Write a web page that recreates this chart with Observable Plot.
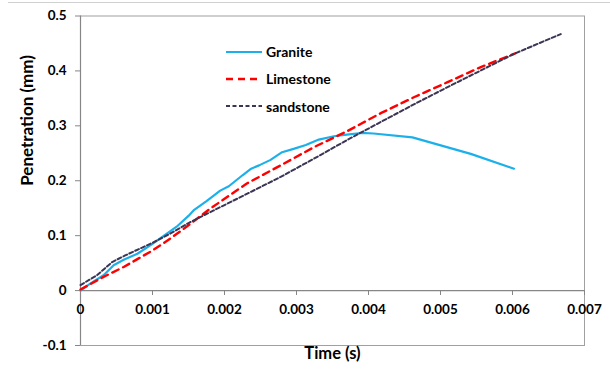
<!DOCTYPE html>
<html>
<head>
<meta charset="utf-8">
<script src="https://cdn.jsdelivr.net/npm/d3@7"></script>
<script src="https://cdn.jsdelivr.net/npm/@observablehq/plot@0.6"></script>
<style>
  html, body { margin: 0; padding: 0; background: #fff; }
  #wrap { position: relative; width: 610px; height: 372px; font-family: Lato, "Open Sans", sans-serif; }
  #topline { position: absolute; left: 8px; right: 0; top: 2px; height: 0; border-top: 1px solid #d0d0d0; }
  #legend { position: absolute; left: 226px; top: 38px; font-weight: bold; font-size: 14px; color: #000; }
  #legend .row { display: flex; align-items: center; height: 27.3px; }
  #legend svg { margin-right: 4px; }
</style>
</head>
<body>
<div id="wrap"><div id="topline"></div><div id="chart"></div><div id="legend"></div></div>
<script>
// ---- data (time in s, penetration in mm) ----
const seriesNames = ["Granite", "Limestone", "sandstone"];
const seriesColors = ["#1CB0EA", "#FF0000", "#3B3556"];
const seriesDash = [null, "7,5", "4,2.5"];
const seriesWidth = [2.2, 2.4, 2];

const graniteT = [0, 0.00014, 0.00032, 0.00046, 0.0006, 0.00079, 0.001, 0.00116, 0.00135, 0.0015, 0.00157, 0.00175, 0.00185, 0.00194, 0.00206, 0.00225, 0.00237, 0.00248, 0.00264, 0.0028, 0.00296, 0.00313, 0.00331, 0.00352, 0.0037, 0.0039, 0.00407, 0.00461, 0.00542, 0.00602];
const graniteP = [0, 0.013, 0.028, 0.046, 0.056, 0.067, 0.085, 0.100, 0.118, 0.136, 0.146, 0.163, 0.173, 0.182, 0.190, 0.210, 0.222, 0.228, 0.238, 0.252, 0.258, 0.265, 0.275, 0.281, 0.284, 0.287, 0.286, 0.279, 0.249, 0.222];

const limestoneT = [0, 0.00032, 0.0006, 0.001, 0.00125, 0.0015, 0.0018, 0.00231, 0.00278, 0.00324, 0.0037, 0.00417, 0.00463, 0.00509, 0.00556, 0.00604];
const limestoneP = [0.002, 0.025, 0.043, 0.073, 0.095, 0.119, 0.149, 0.195, 0.228, 0.261, 0.290, 0.323, 0.352, 0.379, 0.407, 0.432];

const sandstoneT = [0, 0.00023, 0.00044, 0.00062, 0.001, 0.00125, 0.0015, 0.00185, 0.00231, 0.00278, 0.00324, 0.0037, 0.00417, 0.00463, 0.00509, 0.00602, 0.00667];
const sandstoneP = [0.010, 0.028, 0.052, 0.064, 0.087, 0.104, 0.123, 0.146, 0.176, 0.207, 0.240, 0.274, 0.307, 0.339, 0.370, 0.431, 0.467];

const xTicks = [0, 0.001, 0.002, 0.003, 0.004, 0.005, 0.006, 0.007];
const xTickLabels = ["0", "0.001", "0.002", "0.003", "0.004", "0.005", "0.006", "0.007"];
const yTicks = [-0.1, 0, 0.1, 0.2, 0.3, 0.4, 0.5];
const yTickLabels = ["-0.1", "0", "0.1", "0.2", "0.3", "0.4", "0.5"];
const xTitle = "Time (s)";
const yTitle = "Penetration (mm)";

// ---- build ----
const toRows = (T, P) => T.map((t, i) => ({t, p: P[i]}));
const series = [toRows(graniteT, graniteP), toRows(limestoneT, limestoneP), toRows(sandstoneT, sandstoneP)];

const font = "Lato, 'Open Sans', sans-serif";
const chart = Plot.plot({
  width: 610, height: 372,
  marginLeft: 80, marginRight: 26, marginTop: 15.5, marginBottom: 27,
  style: {fontFamily: font, fontSize: "13.5px", fontWeight: "bold", color: "#000", background: "transparent"},
  x: {domain: [0, 0.007], axis: null},
  y: {domain: [-0.1, 0.5]},
  marks: [
    Plot.frame({stroke: "#a0a0a0", strokeWidth: 1}),
    Plot.axisY({anchor: "left", ticks: yTicks, tickSize: 5, tickPadding: 9, stroke: "#868686",
      tickFormat: d => yTickLabels[yTicks.findIndex(v => Math.abs(v - d) < 1e-9)], label: null, fill: "#000", fontSize: 13.5}),
    Plot.ruleX([0], {stroke: "#868686", strokeWidth: 1.2}),
    Plot.ruleY([0], {stroke: "#868686", strokeWidth: 1.2}),
    Plot.ruleX(xTicks, {x: d => d, y1: 0, y2: -0.009, stroke: "#868686"}),
    Plot.text(xTicks, {x: d => d, y: 0, dy: 19, text: (d, i) => xTickLabels[i], fill: "#000", fontSize: 13.5, fontWeight: "bold"}),
    ...series.map((rows, i) => Plot.line(rows, {x: "t", y: "p", stroke: seriesColors[i], strokeWidth: seriesWidth[i],
      strokeDasharray: seriesDash[i] ?? undefined, curve: "linear"})),
    Plot.text([xTitle], {frameAnchor: "bottom", dy: 13, fontSize: 16.5, fontWeight: "bold", fill: "#000"}),
    Plot.text([yTitle], {frameAnchor: "left", dx: -53, dy: 5, rotate: -90, fontSize: 17, fontWeight: "bold", fill: "#000"})
  ]
});
document.getElementById("chart").appendChild(chart);

// legend
const leg = document.getElementById("legend");
seriesNames.forEach((name, i) => {
  const row = document.createElement("div");
  row.className = "row";
  const dash = seriesDash[i] ? ` stroke-dasharray="${seriesDash[i]}"` : "";
  row.innerHTML = `<svg width="36" height="6"><line x1="0" y1="3" x2="36" y2="3" stroke="${seriesColors[i]}" stroke-width="${seriesWidth[i]}"${dash}/></svg><span>${name}</span>`;
  leg.appendChild(row);
});
</script>
</body>
</html>
